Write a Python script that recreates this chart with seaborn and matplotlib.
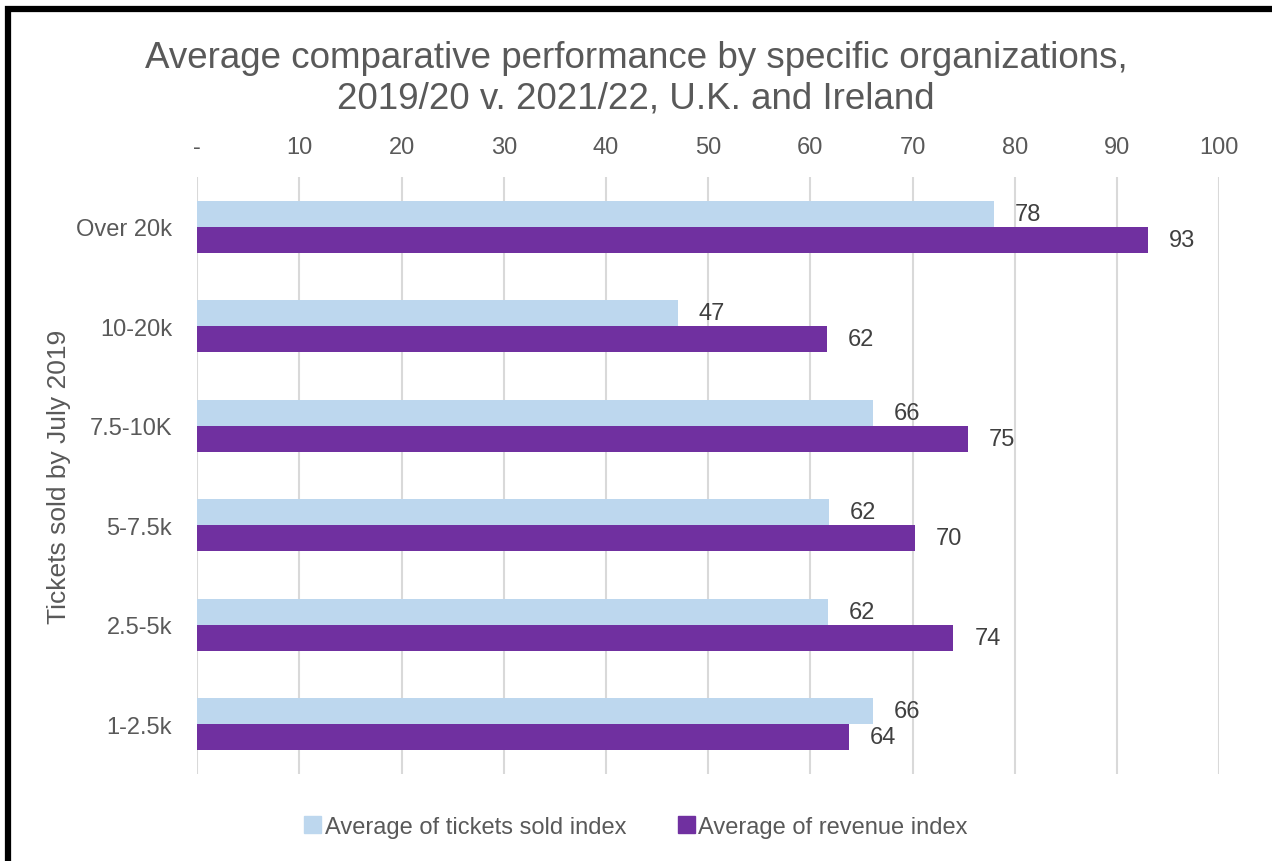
import matplotlib.pyplot as plt
import matplotlib.patches as mpatches
import seaborn as sns
import pandas as pd

sns.set_style('white')
plt.rcParams['font.family'] = ['Liberation Sans', 'DejaVu Sans']

categories = ['Over 20k', '10-20k', '7.5-10K', '5-7.5k', '2.5-5k', '1-2.5k']
tickets_index = [78.0, 47.0, 66.1, 61.8, 61.7, 66.1]
revenue_index = [93.0, 61.6, 75.4, 70.2, 74.0, 63.8]
series = ['Average of tickets sold index', 'Average of revenue index']
colors = ['#BDD7EE', '#7030A0']
xticks = [0, 10, 20, 30, 40, 50, 60, 70, 80, 90, 100]
xticklabels = ['-', '10', '20', '30', '40', '50', '60', '70', '80', '90', '100']

d = [{'Group': c, 'Series': series[0], 'Value': v} for c, v in zip(categories, tickets_index)]
d.extend([{'Group': c, 'Series': series[1], 'Value': v} for c, v in zip(categories, revenue_index)])
df = pd.DataFrame(d)

grey = '#595959'
fig = plt.figure(figsize=(12.72, 8.62), dpi=100)
ax = fig.add_axes([0.155, 0.101, 0.8035, 0.6925])

sns.barplot(data=df, y='Group', x='Value', hue='Series', order=categories,
            hue_order=series, palette=colors, orient='h', width=0.52,
            saturation=1, linewidth=0, ax=ax, legend=False)

for cont in ax.containers:
    ax.bar_label(cont, labels=[f'{v:.0f}' for v in cont.datavalues],
                 padding=15, fontsize=17, color='#404040')

ax.set_xlim(0, 100)
ax.set_xticks(xticks)
ax.set_xticklabels(xticklabels)
ax.xaxis.tick_top()
ax.tick_params(axis='x', length=0, labelsize=17, labelcolor=grey, pad=14)
ax.tick_params(axis='y', length=0, labelsize=17, labelcolor=grey, pad=18)
ax.grid(axis='x', color='#D9D9D9', linewidth=1.5)
ax.set_axisbelow(True)
for s in ax.spines.values():
    s.set_visible(False)
ax.set_xlabel('')
ax.set_ylabel('Tickets sold by July 2019', fontsize=19, color=grey, labelpad=4)

fig.suptitle('Average comparative performance by specific organizations,\n2019/20 v. 2021/22, U.K. and Ireland',
             y=0.952, fontsize=26.5, color=grey, linespacing=1.2)

handles = [mpatches.Patch(color=c, label=s) for c, s in zip(colors, series)]
fig.legend(handles=handles, loc='center', bbox_to_anchor=(0.5, 0.04), ncol=2,
           frameon=False, fontsize=17, labelcolor=grey, handlelength=0.7,
           handleheight=0.7, handletextpad=0.15, columnspacing=2.2)

fig.patches.append(mpatches.Rectangle((8 / 1272, -0.1), 1.2, 1 - 10 / 862 + 0.1,
                                      transform=fig.transFigure, fill=False,
                                      edgecolor='black', linewidth=4.5))

fig.savefig('out.png', dpi=100)
